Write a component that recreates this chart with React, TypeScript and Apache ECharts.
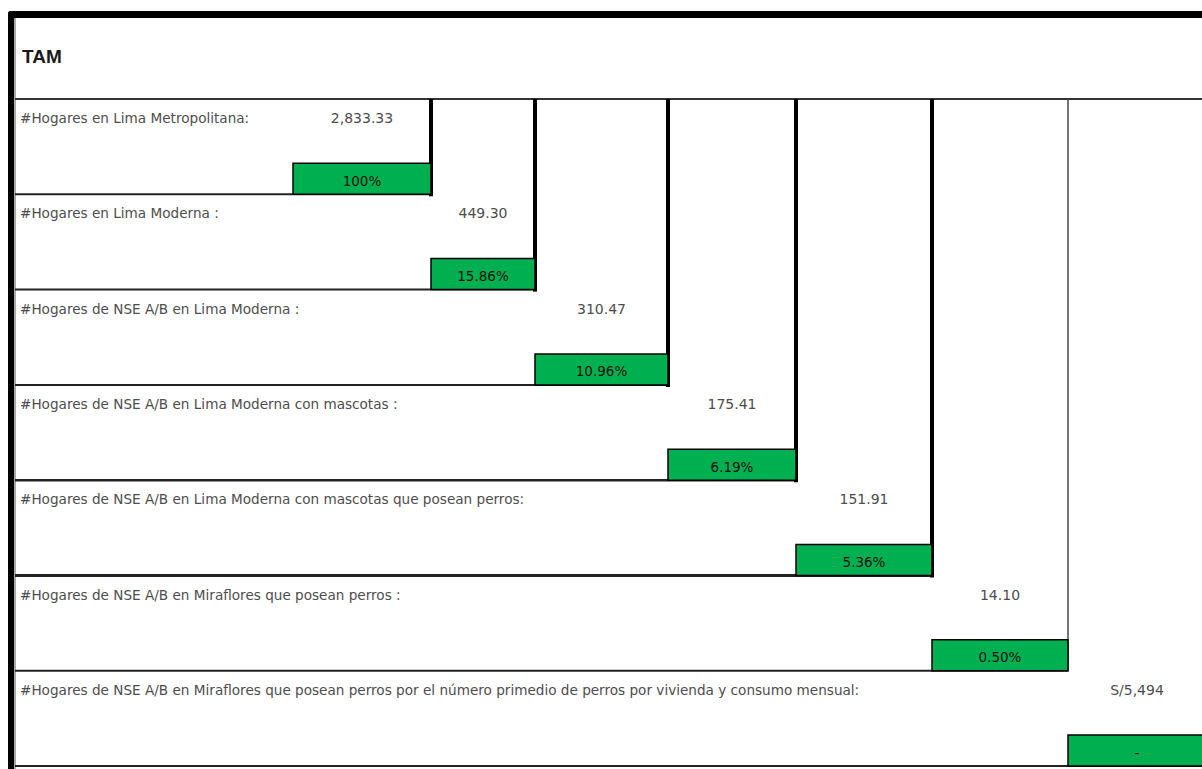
import React, { useEffect, useRef } from "react";
import * as echarts from "echarts";

// ---- data ----
const TITLE = "TAM";
const rowLabels: string[] = [
  "#Hogares en Lima Metropolitana:",
  "#Hogares en Lima Moderna :",
  "#Hogares de NSE A/B en Lima Moderna :",
  "#Hogares de NSE A/B en Lima Moderna con mascotas :",
  "#Hogares de NSE A/B en Lima Moderna con mascotas que posean perros:",
  "#Hogares de NSE A/B en Miraflores que posean perros :",
  "#Hogares de NSE A/B en Miraflores que posean perros por el número primedio de perros por vivienda y consumo mensual:",
];
const rowValues: number[] = [2833.33, 449.3, 310.47, 175.41, 151.91, 14.1, 5494];
const rowShares: (number | null)[] = [100, 15.86, 10.96, 6.19, 5.36, 0.5, null];
const currencyPrefix = "S/";

// ---- layout (pixel space of the sheet) ----
const W = 1202;
const H = 769;
const FRAME_X = 15;
const ROW_TOP = 99;
const ROW_H = 95.3;
const BOX_H = 31;
const colEdges = [293, 431, 535, 668, 796, 932, 1068, 1215];
const vLineWidths = [4, 4, 4, 4, 4, 1.5, 0];
const hLineWidths = [2, 2, 2, 2.5, 3, 2, 2];
const GREEN = "#00B050";
const LABEL_FONT = "DejaVu Sans";

function fmtValue(v: number, i: number): string {
  if (i === rowValues.length - 1) {
    return currencyPrefix + Math.round(v).toLocaleString("en-US");
  }
  return v.toLocaleString("en-US", { minimumFractionDigits: 2, maximumFractionDigits: 2 });
}
function fmtShare(s: number | null): string {
  if (s === null) return "-";
  if (s === 100) return "100%";
  return s.toFixed(2) + "%";
}

export default function App() {
  const ref = useRef<HTMLDivElement>(null);
  useEffect(() => {
    if (!ref.current) return;
    const chart = echarts.init(ref.current, undefined, { renderer: "svg" });
    const option: any = {
      animation: false,
      backgroundColor: "#ffffff",
      grid: { left: 0, right: 0, top: 0, bottom: 0 },
      xAxis: { type: "value", min: 0, max: W, show: false },
      yAxis: { type: "value", min: 0, max: H, inverse: true, show: false },
      title: {
        text: TITLE,
        left: 17,
        top: 42,
        textStyle: { fontFamily: "Liberation Sans", fontSize: 19, fontWeight: "bold", color: "#1a1a1a" },
      },
      graphic: [
        { type: "rect", shape: { x: 8, y: 11, width: W, height: 7, r: [3, 0, 0, 0] }, style: { fill: "#000" } },
        { type: "rect", shape: { x: 8, y: 11, width: 6, height: H, r: [3, 0, 0, 0] }, style: { fill: "#000" } },
        { type: "line", shape: { x1: FRAME_X, y1: 18, x2: FRAME_X, y2: H }, style: { stroke: "#555", lineWidth: 1 } },
        { type: "line", shape: { x1: FRAME_X, y1: ROW_TOP, x2: W, y2: ROW_TOP }, style: { stroke: "#333", lineWidth: 2 } },
      ],
      series: [
        {
          type: "custom",
          coordinateSystem: "cartesian2d",
          data: rowValues.map((v, i) => [i, v]),
          clip: false,
          renderItem: (params: any, api: any) => {
            const i = api.value(0);
            const v = api.value(1);
            const top = ROW_TOP + i * ROW_H;
            const bottom = top + ROW_H;
            const left = colEdges[i];
            const right = colEdges[i + 1];
            const [lx, ty] = api.coord([left, top]);
            const [rx, by] = api.coord([right, bottom]);
            const [fx] = api.coord([FRAME_X, 0]);
            const [, sy] = api.coord([0, ROW_TOP]);
            const [wx] = api.coord([W, 0]);
            const boxTop = by - BOX_H;
            const cx = (lx + rx) / 2;
            const children: any[] = [];
            children.push({
              type: "line",
              shape: { x1: fx, y1: by, x2: Math.min(rx, wx), y2: by },
              style: { stroke: "#222", lineWidth: hLineWidths[i] },
            });
            if (vLineWidths[i] > 0) {
              children.push({
                type: "line",
                shape: { x1: rx, y1: sy, x2: rx, y2: by + vLineWidths[i] / 2 },
                style: { stroke: i >= 5 ? "#444" : "#000", lineWidth: vLineWidths[i] },
              });
            }
            children.push({
              type: "rect",
              shape: { x: lx, y: boxTop, width: rx - lx, height: BOX_H },
              style: { fill: GREEN, stroke: "#000", lineWidth: 1.5 },
            });
            children.push({
              type: "text",
              style: {
                text: rowLabels[i],
                x: 20,
                y: ty + 19,
                verticalAlign: "middle",
                align: "left",
                fontFamily: LABEL_FONT,
                fontSize: 13.6,
                fill: "#4d4d4d",
              },
            });
            const vcx = i === rowValues.length - 1 ? Math.min(cx, 1137) : cx;
            children.push({
              type: "text",
              style: {
                text: fmtValue(v, i),
                x: vcx,
                y: ty + 19,
                verticalAlign: "middle",
                align: "center",
                fontFamily: LABEL_FONT,
                fontSize: 14,
                fill: "#4d4d4d",
              },
            });
            children.push({
              type: "text",
              style: {
                text: fmtShare(rowShares[i]),
                x: vcx,
                y: boxTop + BOX_H / 2 + 2,
                verticalAlign: "middle",
                align: "center",
                fontFamily: LABEL_FONT,
                fontSize: 13.5,
                fill: "#111",
              },
            });
            return { type: "group", children };
          },
        },
      ],
    };
    chart.setOption(option);
    return () => chart.dispose();
  }, []);
  return (
    <div
      ref={ref}
      style={{ position: "fixed", left: 0, top: 0, width: W, height: H, background: "#fff" }}
    />
  );
}
